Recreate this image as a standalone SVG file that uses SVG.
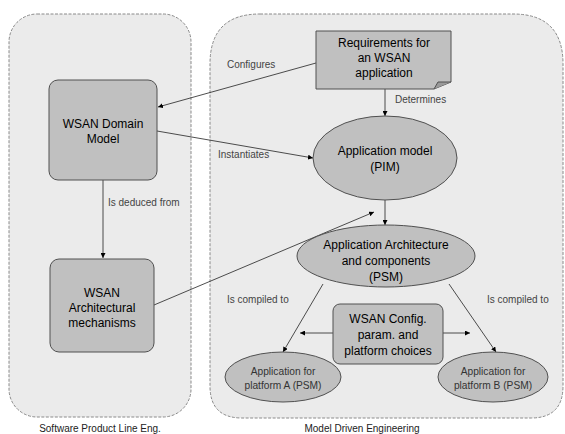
<svg xmlns="http://www.w3.org/2000/svg" width="565" height="434" viewBox="0 0 565 434">
<defs>
<marker id="ah" viewBox="0 0 8 8" refX="8" refY="4" markerWidth="5" markerHeight="5" orient="auto" markerUnits="userSpaceOnUse">
<path d="M0,0 L8,4 L0,8 z" fill="#000"/>
</marker>
<style>
.cont{fill:#ebebeb;stroke:#8a8a8a;stroke-width:1;stroke-dasharray:3,1.5}
.node{fill:#c0c0c0;stroke:#505050;stroke-width:1}
.t{font-family:"Liberation Sans",Arial,sans-serif;font-size:12px;fill:#000;text-anchor:middle}
.ts{font-family:"Liberation Sans",Arial,sans-serif;font-size:10.2px;fill:#333;text-anchor:middle}
.lbl{font-family:"Liberation Sans",Arial,sans-serif;font-size:10px;fill:#444}
.cap{font-family:"Liberation Sans",Arial,sans-serif;font-size:10px;fill:#222;text-anchor:middle}
.c{stroke:#222;stroke-width:0.8;fill:none;marker-end:url(#ah)}
</style>
</defs>
<rect width="565" height="434" fill="#fff"/>
<g id="spl">
<rect class="cont" x="9" y="14" width="182" height="403" rx="28" ry="28"/>
<text class="cap" x="100" y="432">Software Product Line Eng.</text>
</g>
<g id="mde">
<path class="cont" d="M260,14 L513,14 Q563,14 563,64 L563,386 Q563,418 531,418 L242,418 Q210,418 210,386 L210,64 Q210,14 260,14 Z"/>
<text class="cap" x="362" y="432">Model Driven Engineering</text>
</g>
<g id="connectors">
<line class="c" x1="316" y1="63" x2="158" y2="107"/>
<line class="c" x1="157" y1="131" x2="313" y2="158"/>
<line class="c" x1="385" y1="89" x2="385" y2="116"/>
<line class="c" x1="103" y1="180" x2="103" y2="258"/>
<line class="c" x1="385" y1="200" x2="385" y2="225"/>
<line class="c" x1="154" y1="305" x2="374" y2="212"/>
<line class="c" x1="323" y1="284" x2="283" y2="352"/>
<line class="c" x1="449" y1="284" x2="496" y2="352"/>
<line class="c" x1="333" y1="333" x2="300" y2="333"/>
<line class="c" x1="443" y1="333" x2="470" y2="333"/>
<text class="lbl" x="227" y="68">Configures</text>
<text class="lbl" x="218" y="158">Instantiates</text>
<text class="lbl" x="395" y="103">Determines</text>
<text class="lbl" x="108" y="206">Is deduced from</text>
<text class="lbl" x="227" y="303">Is compiled to</text>
<text class="lbl" x="487" y="303">Is compiled to</text>
</g>
<g id="domain">
<rect class="node" x="49" y="80" width="108" height="100" rx="9" ry="9"/>
<text class="t" x="103" y="128">WSAN Domain</text>
<text class="t" x="103" y="143">Model</text>
</g>
<g id="arch">
<rect class="node" x="50" y="259" width="104" height="93" rx="9" ry="9"/>
<text class="t" x="102" y="297">WSAN</text>
<text class="t" x="102" y="312">Architectural</text>
<text class="t" x="102" y="327">mechanisms</text>
</g>
<g id="req">
<path class="node" d="M316,31 L451,31 L451,82 L434,89 L316,89 Z"/>
<path d="M434,89 L438,82 L451,82" fill="#9a9a9a" stroke="#505050" stroke-width="1"/>
<text class="t" x="384" y="47">Requirements for</text>
<text class="t" x="384" y="62">an WSAN</text>
<text class="t" x="384" y="77">application</text>
</g>
<g id="pim">
<ellipse class="node" cx="385" cy="158" rx="72" ry="42"/>
<text class="t" x="385" y="155">Application model</text>
<text class="t" x="385" y="171">(PIM)</text>
</g>
<g id="psm">
<ellipse class="node" cx="386" cy="256" rx="89" ry="31"/>
<text class="t" x="386" y="249">Application Architecture</text>
<text class="t" x="386" y="265">and components</text>
<text class="t" x="386" y="281">(PSM)</text>
</g>
<g id="config">
<rect class="node" x="333" y="304" width="110" height="60" rx="7" ry="7"/>
<text class="t" x="388" y="323">WSAN Config.</text>
<text class="t" x="388" y="339">param. and</text>
<text class="t" x="388" y="355">platform choices</text>
</g>
<g id="appA">
<ellipse class="node" cx="283" cy="377" rx="58" ry="25"/>
<text class="ts" x="283" y="375">Application for</text>
<text class="ts" x="283" y="389">platform A (PSM)</text>
</g>
<g id="appB">
<ellipse class="node" cx="493" cy="377" rx="55" ry="25"/>
<text class="ts" x="493" y="375">Application for</text>
<text class="ts" x="493" y="389">platform B (PSM)</text>
</g>
</svg>
